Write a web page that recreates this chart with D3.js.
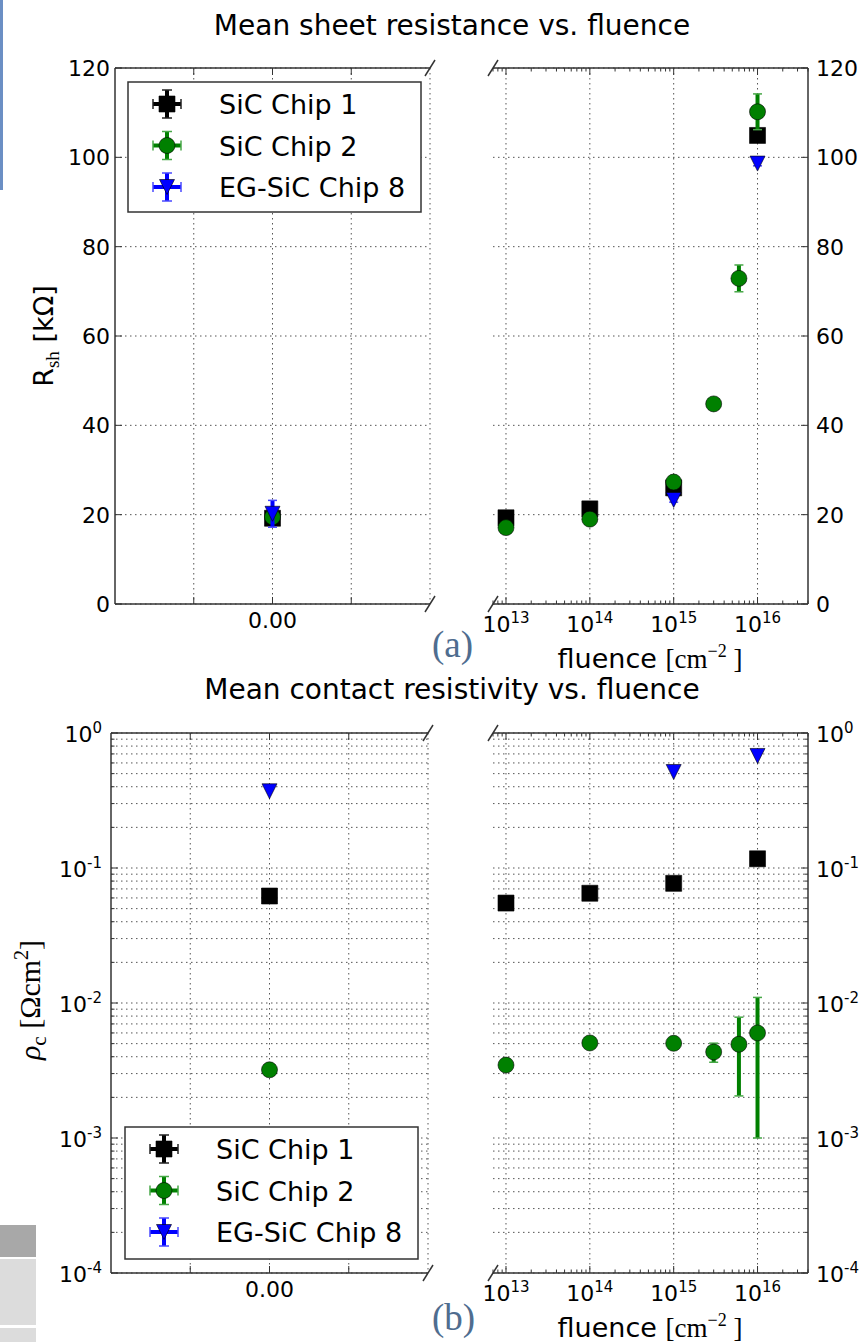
<!DOCTYPE html>
<html>
<head>
<meta charset="utf-8">
<script src="https://cdn.jsdelivr.net/npm/d3@7"></script>
<style>
  body { margin: 0; background: #fff; }
  svg { display: block; }
</style>
</head>
<body>
<div id="chart"></div>
<script>
        var width = 864;
        var height = 1342;

        // ---- data ----
        var chipNames = ["SiC Chip 1", "SiC Chip 2", "EG-SiC Chip 8"];

        // sheet resistance [kOhm] at zero fluence, one value per chip
        var rshZero = [19.2, 19.5, 20.2];
        var rshZeroErr = [0.5, 0.5, 3.0];

        var chip1Fluence = [1e13, 1e14, 1e15, 1e16];
        var chip1Rsh = [19.3, 21.3, 26.0, 104.9];
        var chip1RshErr = [0.8, 0.8, 1.0, 1.5];

        var chip2Fluence = [1e13, 1e14, 1e15, 3e15, 6e15, 1e16];
        var chip2Rsh = [17.1, 19.0, 27.3, 44.8, 72.9, 110.2];
        var chip2RshErr = [0.5, 0.5, 0.8, 0.5, 3.0, 4.0];

        var chip8Fluence = [1e15, 1e16];
        var chip8Rsh = [23.3, 98.6];
        var chip8RshErr = [0.5, 0.5];

        // contact resistivity [Ohm cm^2]
        var rhoZero = [0.062, 0.0032, 0.37];
        var rhoZeroErr = [0, 0, 0];
        var chip1Rho = [0.055, 0.065, 0.077, 0.117];
        var chip1RhoErr = [0, 0, 0, 0];
        var chip2Rho = [0.00347, 0.00506, 0.00503, 0.00434, 0.00495, 0.0060];
        var chip2RhoErr = [0, 0, 0, 0.0007, 0.0029, 0.005];
        var chip8Rho = [0.514, 0.676];
        var chip8RhoErr = [0, 0];

        // ticks
        var rshTicks = [0, 20, 40, 60, 80, 100, 120];
        var rhoExponents = [0, -1, -2, -3, -4];
        var fluenceExponents = [13, 14, 15, 16];
        var zeroTicks = [-0.01, 0, 0.01];
        var zeroTickLabels = ["", "0.00", ""];

        // ---- styles ----
        var colors = ["#000000", "#008000", "#0000ff"];
        var capColors = ["#222222", "#48a848", "#4848ff"];
        var triangleDown = {
            draw: function(ctx, size) {
                var r = Math.sqrt(size) / 2;
                ctx.moveTo(0, r);
                ctx.lineTo(-r, -r);
                ctx.lineTo(r, -r);
                ctx.closePath();
            }
        };
        var shapes = [d3.symbolSquare, d3.symbolCircle, triangleDown];
        var shapeSizes = [256, 201, 225];
        var gridColor = "#555";
        var spineColor = "#333";
        var sans = "'DejaVu Sans', sans-serif";
        var serif = "'Liberation Serif', 'DejaVu Serif', serif";

        var svg = d3.select("#chart")
                    .append("svg")
                    .attr("width", width)
                    .attr("height", height)
                    .style("font-family", sans);

        svg.append("rect").attr("width", width).attr("height", height).attr("fill", "#fff");

        // leftover bits of the page the figure was cut from
        svg.append("rect").attr("x", 0).attr("y", 0).attr("width", 3).attr("height", 190).attr("fill", "#6b8fc4");
        svg.append("rect").attr("x", 0).attr("y", 1225).attr("width", 36).attr("height", 32).attr("fill", "#a8a8a8");
        svg.append("rect").attr("x", 0).attr("y", 1259).attr("width", 36).attr("height", 66).attr("fill", "#dcdcdc");
        svg.append("rect").attr("x", 0).attr("y", 1328).attr("width", 36).attr("height", 14).attr("fill", "#dcdcdc");

        var logMinor = [];
        [-4, -3, -2, -1].forEach(function(k){
            for (var m = 2; m <= 9; m++) logMinor.push(m * Math.pow(10, k));
        });
        var fluMinor = [];
        [12, 13, 14, 15, 16].forEach(function(k){
            for (var m = 2; m <= 9; m++) {
                var v = m * Math.pow(10, k);
                if (v >= 7e12 && v <= 4e16) fluMinor.push(v);
            }
        });

        var panels = [
            {
                title: "Mean sheet resistance vs. fluence", titleY: 35,
                y: d3.scaleLinear().domain([0, 120]).range([604, 68]),
                leftRange: [115, 430], rightRange: [493, 808],
                major: rshTicks, minor: [], log: false,
                series: [
                    {zero: rshZero[0], zeroErr: rshZeroErr[0], fl: chip1Fluence, v: chip1Rsh, e: chip1RshErr},
                    {zero: rshZero[1], zeroErr: rshZeroErr[1], fl: chip2Fluence, v: chip2Rsh, e: chip2RshErr},
                    {zero: rshZero[2], zeroErr: rshZeroErr[2], fl: chip8Fluence, v: chip8Rsh, e: chip8RshErr}
                ],
                legend: {x: 128, y: 82, w: 293, h: 130},
                tag: "(a)", tagY: 657, xlabelY: 668
            },
            {
                title: "Mean contact resistivity vs. fluence", titleY: 699,
                y: d3.scaleLog().domain([1e-4, 1]).range([1273, 733]),
                leftRange: [111, 428], rightRange: [493, 808],
                major: rhoExponents.map(function(k){ return Math.pow(10, k); }), minor: logMinor, log: true,
                series: [
                    {zero: rhoZero[0], zeroErr: rhoZeroErr[0], fl: chip1Fluence, v: chip1Rho, e: chip1RhoErr},
                    {zero: rhoZero[1], zeroErr: rhoZeroErr[1], fl: chip2Fluence, v: chip2Rho, e: chip2RhoErr},
                    {zero: rhoZero[2], zeroErr: rhoZeroErr[2], fl: chip8Fluence, v: chip8Rho, e: chip8RhoErr}
                ],
                legend: {x: 125, y: 1127, w: 293, h: 132},
                tag: "(b)", tagY: 1330, xlabelY: 1337
            }
        ];

        function hline(g, x1, x2, yy, w, dash, col) {
            g.append("line").attr("x1", x1).attr("x2", x2).attr("y1", yy).attr("y2", yy)
                .attr("stroke", col || spineColor).attr("stroke-width", w)
                .attr("stroke-dasharray", dash || null);
        }
        function vline(g, xx, y1, y2, w, dash, col) {
            g.append("line").attr("x1", xx).attr("x2", xx).attr("y1", y1).attr("y2", y2)
                .attr("stroke", col || spineColor).attr("stroke-width", w)
                .attr("stroke-dasharray", dash || null);
        }
        function breakMark(g, cx, cy) {
            g.append("line").attr("x1", cx - 5).attr("y1", cy + 8).attr("x2", cx + 5).attr("y2", cy - 8)
                .attr("stroke", spineColor).attr("stroke-width", 1.5);
        }
        function powerLabel(sel, exp, size, supSize) {
            sel.append("tspan").text("10");
            sel.append("tspan").attr("dy", -Math.round(size * 0.42)).attr("font-size", supSize).text(exp);
        }
        function errorBar(g, cx, y1, y2, i) {
            vline(g, cx, y1, y2, 4, null, colors[i]);
            hline(g, cx - 4.5, cx + 4.5, y1, 1.5, null, capColors[i]);
            hline(g, cx - 4.5, cx + 4.5, y2, 1.5, null, capColors[i]);
        }
        function marker(g, cx, cy, i) {
            g.append("path")
                .attr("d", d3.symbol().type(shapes[i]).size(shapeSizes[i])())
                .attr("transform", "translate(" + cx + "," + cy + ")")
                .attr("fill", colors[i])
                .attr("stroke", "#000")
                .attr("stroke-width", 0.6);
        }

        panels.forEach(function(p){
            var g = svg.append("g");
            var y = p.y;
            var top = y.range()[1], bot = y.range()[0];
            var xl = d3.scaleLinear().domain([-0.02, 0.02]).range(p.leftRange);
            var xr = d3.scaleLog().domain([7e12, 4e16]).range(p.rightRange);
            var L0 = p.leftRange[0], L1 = p.leftRange[1];
            var R0 = p.rightRange[0], R1 = p.rightRange[1];
            var dash = "1.5,3.5";

            // grid
            p.major.concat(p.minor).forEach(function(v){
                hline(g, L0, L1, y(v), 1, dash, gridColor);
                hline(g, R0, R1, y(v), 1, dash, gridColor);
            });
            zeroTicks.concat([0.02]).forEach(function(v){ vline(g, xl(v), top, bot, 1, dash, gridColor); });
            fluenceExponents.forEach(function(k){ vline(g, xr(Math.pow(10, k)), top, bot, 1, dash, gridColor); });

            // spines
            vline(g, L0, top, bot, 1.5);
            hline(g, L0, L1, top, 1.5);
            hline(g, L0, L1, bot, 1.5);
            vline(g, R1, top, bot, 1.5);
            hline(g, R0, R1, top, 1.5);
            hline(g, R0, R1, bot, 1.5);
            breakMark(g, L1, top); breakMark(g, L1, bot);
            breakMark(g, R0, top); breakMark(g, R0, bot);

            // ticks
            zeroTicks.forEach(function(v){
                vline(g, xl(v), bot, bot - 7, 1);
                vline(g, xl(v), top, top + 7, 1);
            });
            fluenceExponents.forEach(function(k){
                var xx = xr(Math.pow(10, k));
                vline(g, xx, bot, bot - 7, 1);
                vline(g, xx, top, top + 7, 1);
            });
            fluMinor.forEach(function(v){
                vline(g, xr(v), bot, bot - 3.5, 1);
                vline(g, xr(v), top, top + 3.5, 1);
            });
            p.major.forEach(function(v){
                hline(g, L0, L0 + 7, y(v), 1);
                hline(g, R1 - 7, R1, y(v), 1);
            });
            p.minor.forEach(function(v){
                hline(g, L0, L0 + 3.5, y(v), 1);
                hline(g, R1 - 3.5, R1, y(v), 1);
            });

            // tick labels
            var tl = g.append("g").attr("font-size", 22).attr("fill", "#000");
            p.major.forEach(function(v, i){
                if (p.log) {
                    var e = String(rhoExponents[i]);
                    powerLabel(tl.append("text").attr("x", L0 - 9).attr("y", y(v) + 9).attr("text-anchor", "end"), e, 22, 15);
                    powerLabel(tl.append("text").attr("x", R1 + 8).attr("y", y(v) + 9).attr("text-anchor", "start"), e, 22, 15);
                } else {
                    tl.append("text").attr("x", L0 - 5).attr("y", y(v) + 8).attr("text-anchor", "end").text(v);
                    tl.append("text").attr("x", R1 + 8).attr("y", y(v) + 8).attr("text-anchor", "start").text(v);
                }
            });
            zeroTicks.forEach(function(v, i){
                if (zeroTickLabels[i])
                    tl.append("text").attr("x", xl(v)).attr("y", bot + 24).attr("text-anchor", "middle").text(zeroTickLabels[i]);
            });
            fluenceExponents.forEach(function(k){
                powerLabel(tl.append("text").attr("x", xr(Math.pow(10, k))).attr("y", bot + 28).attr("text-anchor", "middle"), String(k), 22, 15);
            });

            // data: error bars then markers, one chip after the other
            p.series.forEach(function(s, i){
                var mg = g.append("g");
                if (s.zeroErr > 0) errorBar(mg, xl(0), y(s.zero - s.zeroErr), y(s.zero + s.zeroErr), i);
                marker(mg, xl(0), y(s.zero), i);
                s.fl.forEach(function(f, j){
                    if (s.e[j] > 0) errorBar(mg, xr(f), y(s.v[j] - s.e[j]), y(s.v[j] + s.e[j]), i);
                    marker(mg, xr(f), y(s.v[j]), i);
                });
            });

            // legend
            var lg = g.append("g").attr("transform", "translate(" + p.legend.x + "," + p.legend.y + ")");
            lg.append("rect").attr("width", p.legend.w).attr("height", p.legend.h)
                .attr("fill", "#fff").attr("stroke", spineColor).attr("stroke-width", 1.5);
            chipNames.forEach(function(name, i){
                var cy = 22 + i * 41.5, cx = 39;
                vline(lg, cx, cy - 14, cy + 14, 4, null, colors[i]);
                hline(lg, cx - 14, cx + 14, cy, 4, null, colors[i]);
                hline(lg, cx - 5, cx + 5, cy - 14, 1.5, null, capColors[i]);
                hline(lg, cx - 5, cx + 5, cy + 14, 1.5, null, capColors[i]);
                vline(lg, cx - 14, cy - 5, cy + 5, 1.5, null, capColors[i]);
                vline(lg, cx + 14, cy - 5, cy + 5, 1.5, null, capColors[i]);
                marker(lg, cx, cy, i);
                lg.append("text").attr("x", 91).attr("y", cy + 10).attr("font-size", 27).text(name);
            });

            // title
            g.append("text").attr("x", 452).attr("y", p.titleY).attr("text-anchor", "middle")
                .attr("font-size", 28).text(p.title);

            // x label
            var xt = g.append("text").attr("x", 650).attr("y", p.xlabelY).attr("text-anchor", "middle").attr("font-size", 27);
            xt.append("tspan").text("fluence ");
            xt.append("tspan").attr("font-family", serif).text("[cm");
            xt.append("tspan").attr("font-family", serif).attr("font-size", 18).attr("dy", -11).text("\u22122");
            xt.append("tspan").attr("font-family", serif).attr("dy", 11).text(" ]");

            // panel tag
            g.append("text").attr("x", 432).attr("y", p.tagY).attr("font-family", serif)
                .attr("font-size", 37).attr("fill", "#4f6d8f").text(p.tag);
        });

        // y labels
        var yl1 = svg.append("text").attr("transform", "translate(53,336) rotate(-90)")
            .attr("text-anchor", "middle").attr("font-size", 27);
        yl1.append("tspan").text("R");
        yl1.append("tspan").attr("font-family", serif).attr("font-size", 19).attr("dy", 6).text("sh");
        yl1.append("tspan").attr("dy", -6).text(" [k\u03A9]");

        var yl2 = svg.append("text").attr("transform", "translate(40,1000) rotate(-90)")
            .attr("text-anchor", "middle").attr("font-size", 30).attr("font-family", serif);
        yl2.append("tspan").attr("font-style", "italic").text("\u03C1");
        yl2.append("tspan").attr("font-size", 21).attr("dy", 6).text("c");
        yl2.append("tspan").attr("dy", -6).text(" [\u03A9cm");
        yl2.append("tspan").attr("font-size", 20).attr("dy", -12).text("2");
        yl2.append("tspan").attr("dy", 12).text("]");
</script>
</body>
</html>
